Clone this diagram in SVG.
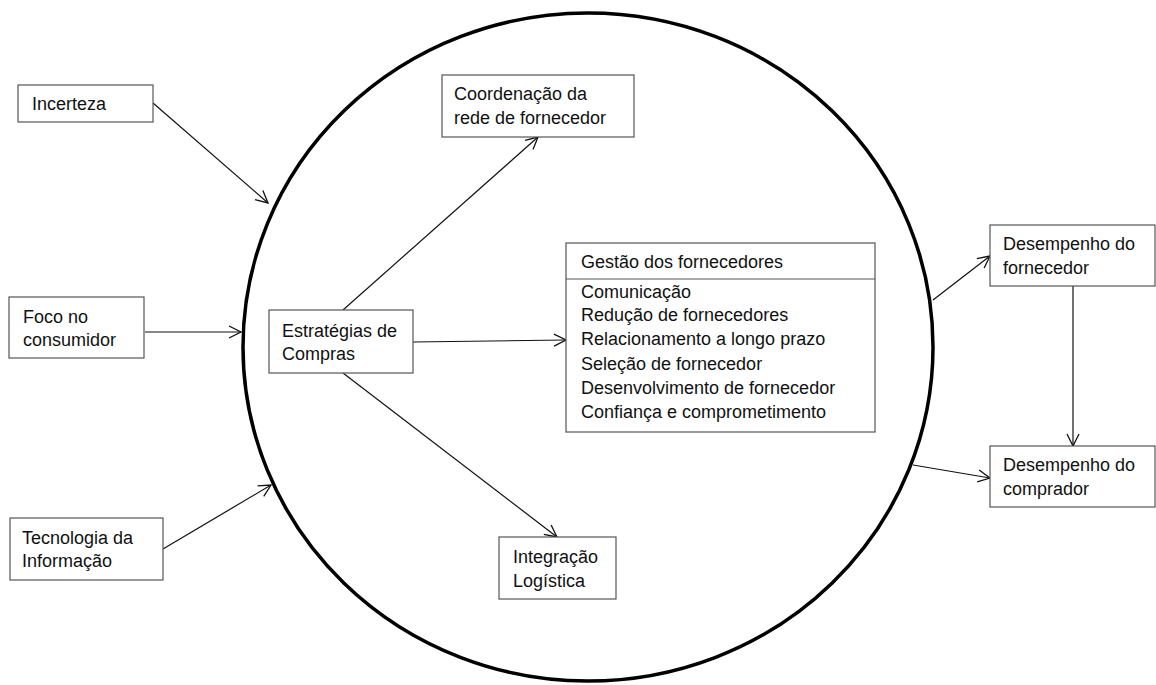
<svg xmlns="http://www.w3.org/2000/svg" width="1156" height="685" viewBox="0 0 1156 685">
  <style>
    .box { fill: #fff; stroke: #555; stroke-width: 1.2; }
    .lbl { font-family: "Liberation Sans", Arial, sans-serif; font-size: 18px; fill: #111; }
    .edge { fill: none; stroke: #111; stroke-width: 1.2; marker-end: url(#arrow); }
  </style>
  <defs>
    <marker id="arrow" viewBox="0 0 14 14" refX="13" refY="7" markerWidth="14" markerHeight="14" markerUnits="userSpaceOnUse" orient="auto">
      <path d="M1,1 L13,7 L1,13" fill="none" stroke="#111" stroke-width="1.3"/>
    </marker>
  </defs>

  <!-- boundary of the buying organisation -->
  <ellipse id="boundary" cx="588" cy="347" rx="345" ry="334" fill="none" stroke="#000" stroke-width="3.5"/>

  <g id="connectors">
    <line class="edge" x1="153" y1="103" x2="268" y2="203"/>
    <line class="edge" x1="145" y1="332" x2="241" y2="332"/>
    <line class="edge" x1="163" y1="549" x2="271" y2="485"/>
    <line class="edge" x1="343" y1="310" x2="538" y2="137"/>
    <line class="edge" x1="413" y1="342" x2="566" y2="340"/>
    <line class="edge" x1="343" y1="373" x2="557" y2="537"/>
    <line class="edge" x1="933" y1="300" x2="990" y2="256"/>
    <line class="edge" x1="913" y1="465" x2="990" y2="478"/>
    <line class="edge" x1="1073" y1="286" x2="1073" y2="446"/>
  </g>

  <g id="incerteza">
    <rect class="box" x="18" y="85" width="135" height="37"/>
    <text class="lbl" x="32" y="110">Incerteza</text>
  </g>

  <g id="foco">
    <rect class="box" x="9" y="297" width="135" height="61"/>
    <text class="lbl" x="23" y="323">Foco no</text>
    <text class="lbl" x="23" y="346">consumidor</text>
  </g>

  <g id="tecnologia">
    <rect class="box" x="10" y="518" width="153" height="62"/>
    <text class="lbl" x="22" y="544">Tecnologia da</text>
    <text class="lbl" x="22" y="567">Informação</text>
  </g>

  <g id="estrategias">
    <rect class="box" x="269" y="310" width="144" height="63"/>
    <text class="lbl" x="282" y="337" textLength="115" lengthAdjust="spacing">Estratégias de</text>
    <text class="lbl" x="282" y="360">Compras</text>
  </g>

  <g id="coordenacao">
    <rect class="box" x="442" y="75" width="192" height="62"/>
    <text class="lbl" x="454" y="100">Coordenação da</text>
    <text class="lbl" x="454" y="124">rede de fornecedor</text>
  </g>

  <g id="gestao">
    <rect class="box" x="566" y="243" width="309" height="189"/>
    <line x1="566" y1="279" x2="875" y2="279" stroke="#555" stroke-width="1.2"/>
    <text class="lbl" x="581" y="268">Gestão dos fornecedores</text>
    <text class="lbl" x="581" y="298">Comunicação</text>
    <text class="lbl" x="581" y="321">Redução de fornecedores</text>
    <text class="lbl" x="581" y="345">Relacionamento a longo prazo</text>
    <text class="lbl" x="581" y="370">Seleção de fornecedor</text>
    <text class="lbl" x="581" y="394">Desenvolvimento de fornecedor</text>
    <text class="lbl" x="581" y="418">Confiança e comprometimento</text>
  </g>

  <g id="integracao">
    <rect class="box" x="499" y="537" width="117" height="62"/>
    <text class="lbl" x="513" y="563">Integração</text>
    <text class="lbl" x="513" y="587">Logística</text>
  </g>

  <g id="desempenho-fornecedor">
    <rect class="box" x="990" y="225" width="165" height="61"/>
    <text class="lbl" x="1003" y="250">Desempenho do</text>
    <text class="lbl" x="1003" y="274">fornecedor</text>
  </g>

  <g id="desempenho-comprador">
    <rect class="box" x="990" y="446" width="165" height="61"/>
    <text class="lbl" x="1003" y="471">Desempenho do</text>
    <text class="lbl" x="1003" y="495">comprador</text>
  </g>
</svg>
